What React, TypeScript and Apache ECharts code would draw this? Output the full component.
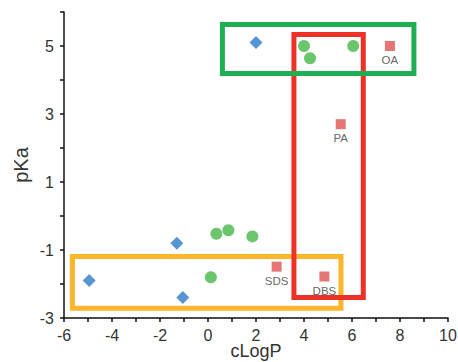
import React, { useEffect, useRef } from "react";
import * as echarts from "echarts";

// Data (cLogP, pKa)
const diamondPoints: number[][] = [
  [2.0, 5.1],
  [-1.3, -0.8],
  [-4.95, -1.9],
  [-1.05, -2.4],
];
const circlePoints: number[][] = [
  [0.35, -0.52],
  [0.85, -0.42],
  [1.85, -0.6],
  [0.12, -1.8],
  [4.0, 5.0],
  [4.25, 4.64],
  [6.05, 5.0],
];
const squareNames: string[] = ["OA", "PA", "SDS", "DBS"];
const squarePoints: number[][] = [
  [7.58, 5.0],
  [5.53, 2.7],
  [2.86, -1.49],
  [4.85, -1.78],
];
// Highlight boxes in data coords: [xMin, yMax, xMax, yMin]
const greenBox: number[] = [0.6, 5.63, 8.58, 4.19];
const redBox: number[] = [3.58, 5.34, 6.47, -2.4];
const orangeBox: number[] = [-5.65, -1.19, 5.54, -2.71];

const xTicks = { min: -6, max: 10, interval: 1 };
const yTicks = { min: -3, max: 6, interval: 1 };

export default function App() {
  const ref = useRef<HTMLDivElement>(null);
  useEffect(() => {
    if (!ref.current) return;
    const chart = echarts.init(ref.current, null, { renderer: "svg" });
    const boxes = [
      { box: orangeBox, color: "#fbb62c" },
      { box: redBox, color: "#ec3127" },
      { box: greenBox, color: "#1fae53" },
    ];
    chart.setOption({
      animation: false,
      grid: { left: 64, right: 10, top: 12, bottom: 44, containLabel: false, outerBoundsMode: "none" },
      xAxis: {
        type: "value",
        min: xTicks.min,
        max: xTicks.max,
        interval: xTicks.interval,
        name: "cLogP",
        nameLocation: "middle",
        nameGap: 25,
        nameMoveOverlap: false,
        nameTextStyle: { fontSize: 18, color: "#333", fontFamily: "Liberation Sans", lineHeight: 16 },
        splitLine: { show: false },
        axisLine: { onZero: false, lineStyle: { color: "#111", width: 1.5 } },
        axisTick: { inside: false, length: 4, lineStyle: { color: "#111", width: 1.5 } },
        axisLabel: {
          fontSize: 16,
          lineHeight: 16,
          color: "#333",
          fontFamily: "Liberation Sans",
          margin: 9,
          formatter: (v: number) => (Math.round(v) % 2 === 0 ? String(v) : ""),
        },
      },
      yAxis: {
        type: "value",
        min: yTicks.min,
        max: yTicks.max,
        interval: yTicks.interval,
        name: "pKa",
        nameLocation: "middle",
        nameGap: 33,
        nameRotate: 90,
        nameMoveOverlap: false,
        nameTextStyle: { fontSize: 20, color: "#333", fontFamily: "Liberation Sans" },
        splitLine: { show: false },
        axisLine: { onZero: false, lineStyle: { color: "#111", width: 1.5 } },
        axisTick: { inside: false, length: 4, lineStyle: { color: "#111", width: 1.5 } },
        axisLabel: {
          fontSize: 16,
          color: "#333",
          fontFamily: "Liberation Sans",
          margin: 10,
          formatter: (v: number) =>
            Math.abs(Math.round(v)) % 2 === 1 && v < 6 ? String(v) : "",
        },
      },
      series: [
        {
          type: "custom",
          z: 1,
          data: boxes.map((b) => b.box),
          renderItem: (params: any, api: any) => {
            const i = params.dataIndex;
            const p1 = api.coord([api.value(0), api.value(1)]);
            const p2 = api.coord([api.value(2), api.value(3)]);
            return {
              type: "rect",
              shape: { x: p1[0], y: p1[1], width: p2[0] - p1[0], height: p2[1] - p1[1] },
              style: { fill: "none", stroke: boxes[i].color, lineWidth: 5 },
            };
          },
          silent: true,
        },
        {
          type: "scatter",
          z: 3,
          symbol: "diamond",
          symbolSize: 13,
          itemStyle: { color: "#2a7cc7" },
          data: diamondPoints,
        },
        {
          type: "scatter",
          z: 3,
          symbol: "circle",
          symbolSize: 12,
          itemStyle: { color: "#45b649" },
          data: circlePoints,
        },
        {
          type: "scatter",
          z: 3,
          symbol: "rect",
          symbolSize: 10,
          itemStyle: { color: "#e05353" },
          data: squarePoints.map((p, i) => ({ value: p, name: squareNames[i] })),
          label: {
            show: true,
            position: "bottom",
            distance: 3,
            formatter: "{b}",
            fontSize: 11.5,
            color: "#3a3a3a",
            fontFamily: "Liberation Sans",
          },
        },
      ],
    });
    return () => chart.dispose();
  }, []);
  return (
    <div
      ref={ref}
      style={{ position: "absolute", left: 0, top: 0, width: 458, height: 362 }}
    />
  );
}
